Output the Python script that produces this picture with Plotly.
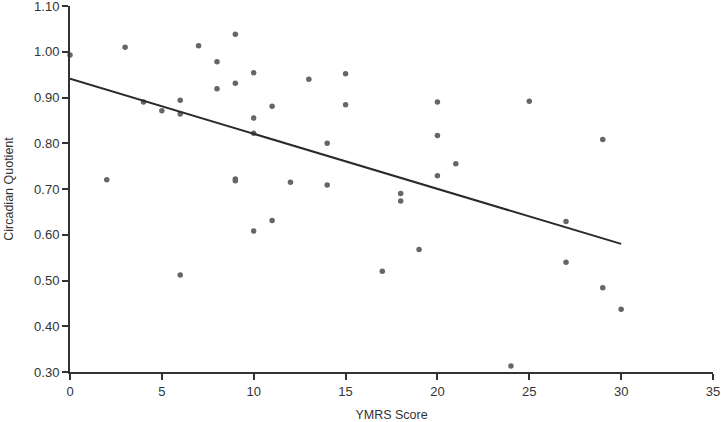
import plotly.graph_objects as go

# YMRS score vs circadian quotient
ymrs = [0, 2, 3, 4, 5, 6, 6, 6, 7, 8, 8, 9, 9, 9, 9,
        10, 10, 10, 10, 11, 11, 12, 13, 14, 14, 15, 15,
        17, 18, 18, 19, 20, 20, 20, 21, 24, 25, 27, 27, 29, 29, 30]
cq = [0.993, 0.720, 1.010, 0.890, 0.871, 0.894, 0.864, 0.512, 1.013, 0.978, 0.919,
      1.038, 0.931, 0.722, 0.718,
      0.954, 0.855, 0.822, 0.608, 0.881, 0.631, 0.715, 0.940, 0.800, 0.709,
      0.952, 0.884, 0.520, 0.690, 0.674, 0.568, 0.890, 0.817, 0.729, 0.755,
      0.313, 0.892, 0.629, 0.540, 0.808, 0.484, 0.437]

# regression line endpoints
fit_x = [0, 30]
fit_y = [0.941, 0.580]

x_ticks = [0, 5, 10, 15, 20, 25, 30, 35]
y_ticks = [0.30, 0.40, 0.50, 0.60, 0.70, 0.80, 0.90, 1.00, 1.10]

font_family = "Liberation Sans, Arial, sans-serif"
ink = "#333333"

fig = go.Figure()
fig.add_trace(go.Scatter(
    x=ymrs, y=cq, mode="markers",
    marker=dict(color="#666666", size=5.5, symbol="circle"),
    cliponaxis=False, showlegend=False,
))
fig.add_trace(go.Scatter(
    x=fit_x, y=fit_y, mode="lines",
    line=dict(color="#2a2a2a", width=2),
    showlegend=False,
))

axis_common = dict(
    showgrid=False, zeroline=False, showline=True,
    linecolor=ink, linewidth=2, automargin=False,
    ticks="outside", ticklen=6, tickwidth=1.5, tickcolor=ink,
    ticklabeloverflow="allow",
    tickfont=dict(size=13, color=ink, family=font_family),
)

fig.update_xaxes(
    range=[0, 35], tickvals=x_ticks,
    title=dict(text="YMRS Score", font=dict(size=12.5, color=ink, family=font_family), standoff=15),
    **axis_common,
)
fig.update_yaxes(
    range=[0.30, 1.10], tickvals=y_ticks, tickformat=".2f",
    title=dict(text="Circadian Quotient", font=dict(size=12.5, color=ink, family=font_family), standoff=18),
    **axis_common,
)

fig.update_layout(
    width=721, height=422,
    margin=dict(l=70, r=8, t=6, b=50),
    plot_bgcolor="white", paper_bgcolor="white",
    font=dict(family=font_family),
)

# drop the browser's default body margin so the figure sits at the page corner
fig.write_html("out.html", config={"displayModeBar": False},
               post_script="document.body.style.margin='0';")
